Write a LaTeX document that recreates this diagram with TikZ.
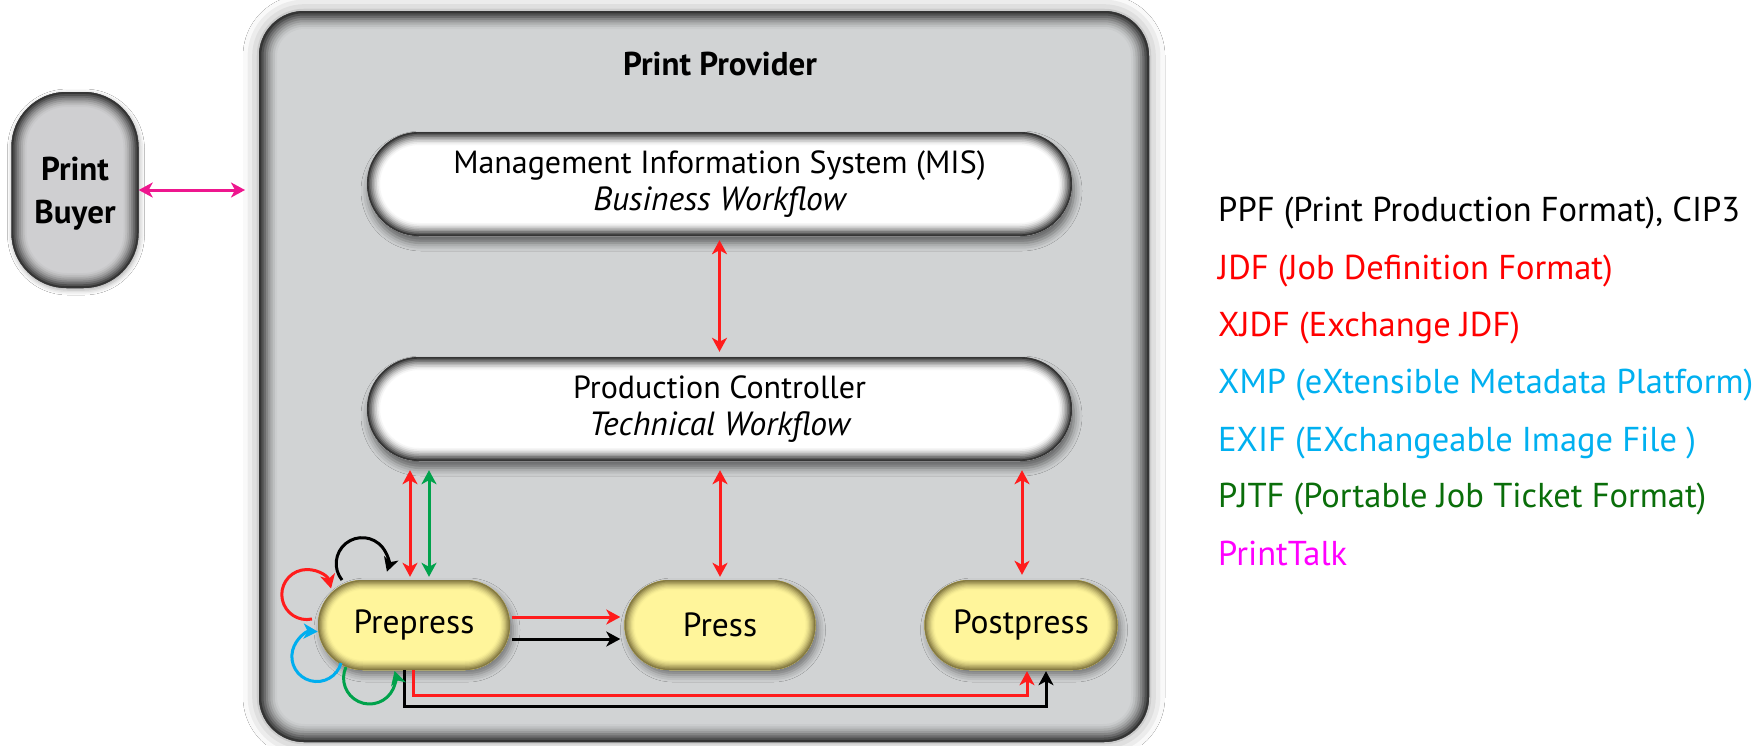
\documentclass[tikz,border=0pt]{standalone}
\usepackage{fontspec}
\setmainfont{PT Sans}
\usetikzlibrary{arrows.meta,shadows.blur,calc}

\definecolor{provfill}{HTML}{D1D3D4}
\definecolor{edgegray}{HTML}{353535}
\definecolor{buyfill}{HTML}{CFCFD1}
\definecolor{yelfill}{HTML}{FFF59B}
\definecolor{yeledge}{HTML}{857A42}
\definecolor{jred}{HTML}{FF1C1C}
\definecolor{jgreen}{HTML}{00A24B}
\definecolor{jblue}{HTML}{00AEEF}
\definecolor{jpink}{HTML}{EE168E}
\definecolor{lgred}{HTML}{FF0000}
\definecolor{lgblue}{HTML}{00B0F0}
\definecolor{lggreen}{HTML}{0A6E0A}
\definecolor{lgmag}{HTML}{FF00FF}

\newcommand\myfnt{\fontsize{32pt}{37pt}\selectfont}
\newcommand\myital{\fontsize{33.5pt}{37pt}\selectfont\itshape}
\newcommand\myyel{\fontsize{33.5pt}{37pt}\selectfont}
\newcommand\mybold{\fontsize{33pt}{43pt}\selectfont\bfseries}
\newcommand\mylegend{\fontsize{34.5pt}{37pt}\selectfont}

\tikzset{
  atip/.tip={Stealth[length=14pt,width=15pt,inset=4pt]},
  bevel/.style n args={4}{rounded corners=#3, fill=#2, inner sep=0pt,
    path picture={
      \foreach \k in {1,...,8}{
        \pgfmathsetmacro\w{2*#4*(9-\k)/8}
        \pgfmathsetmacro\p{100*(\k/8)^1.5}
        \draw[line width=\w pt, draw=#1!\p!#2, rounded corners=#3]
          (path picture bounding box.south west) rectangle (path picture bounding box.north east);
      }
    }},
  whitebox/.style={bevel={edgegray}{white}{52pt}{13}, minimum width=705pt, minimum height=104pt,
    align=center, font=\myfnt,
    blur shadow={shadow xshift=2pt, shadow yshift=-7pt, shadow blur radius=8pt, shadow opacity=55}},
  yelbox/.style={bevel={yeledge}{yelfill}{45pt}{10}, minimum height=90pt, font=\myyel,
    blur shadow={shadow xshift=3pt, shadow yshift=-5pt, shadow blur radius=7pt, shadow opacity=45}},
  both/.style={line width=3pt, arrows={atip-atip}},
  one/.style={line width=3pt, arrows={-atip}},
  legend/.style={anchor=base west, font=\mylegend, inner sep=0pt},
}

\begin{document}
\begin{tikzpicture}[x=1pt,y=-1pt]
\useasboundingbox[fill=white] (0,0) rectangle (1763,745);

% outer provider box
\node[bevel={edgegray}{provfill}{45pt}{18}, minimum width=890pt, minimum height=731pt,
  blur shadow={shadow xshift=0pt, shadow yshift=0pt, shadow blur radius=16pt, shadow opacity=40}]
  (provider) at (704,376.5) {};
\node[font=\mybold, inner sep=0pt] (title) at (720,64) {Print Provider};

% print buyer
\node[bevel={edgegray}{buyfill}{55pt}{15}, minimum width=127pt, minimum height=196pt,
  align=center, font=\mybold,
  blur shadow={shadow xshift=1pt, shadow yshift=-2pt, shadow blur radius=5pt, shadow opacity=35}]
  (buyer) at (75,190) {Print\\\raisebox{0pt}[\height][-2pt]{Buyer}};

% workflow boxes
\node[whitebox] (mis) at (719.5,184) {Management Information System (MIS)\\{\myital Business Workflow}};
\node[whitebox] (pc) at (719.5,409) {Production Controller\\{\myital Technical Workflow}};

% production steps
\node[yelbox, minimum width=192pt] (prepress) at (414,625) {Prepress};
\node[yelbox, minimum width=191pt] (press) at (720,625) {Press};
\node[yelbox, minimum width=193pt] (postpress) at (1021,625) {Postpress};

% PrintTalk
\coordinate (provin) at (245,190);
\draw[both, jpink] (buyer.east) -- (provin);

% vertical JDF / PJTF links
\draw[both, jred, shorten <=4pt, shorten >=5pt] (mis.south) -- (pc.north);
\draw[both, jred, shorten <=9pt, shorten >=3pt] ([xshift=-4pt]prepress.north |- pc.south) -- ([xshift=-4pt]prepress.north);
\draw[both, jgreen, shorten <=9pt, shorten >=3pt] ([xshift=15pt]prepress.north |- pc.south) -- ([xshift=15pt]prepress.north);
\draw[both, jred, shorten <=9pt, shorten >=3pt] (press.north |- pc.south) -- (press.north);
\draw[both, jred, shorten <=9pt, shorten >=5pt] ([xshift=1pt]postpress.north |- pc.south) -- ([xshift=1pt]postpress.north);

% prepress -> press
\draw[one, jred, shorten <=2pt, shorten >=4pt] ([yshift=8pt]prepress.east) -- ([yshift=8pt]press.west);
\draw[one, black, shorten <=2pt, shorten >=4pt] ([yshift=-14pt]prepress.east) -- ([yshift=-14pt]press.west);

% prepress -> postpress
\draw[one, jred, shorten >=1pt] ([xshift=-1pt]prepress.south) -- ++(0,25) -| ([xshift=6pt]postpress.south);
\draw[one, black, shorten >=1pt] ([xshift=-10pt]prepress.south) -- ++(0,36) -| ([xshift=25pt]postpress.south);

% self loops
\draw[one, black] ([shift={(-72,-45)}]prepress.center) arc[start angle=141, end angle=378, radius=26];
\draw[one, jred] ([shift={(-102,-6)}]prepress.center) arc[start angle=78, end angle=346, radius=25];
\draw[one, jblue] ([shift={(-73,38)}]prepress.center) arc[start angle=15, end angle=272, radius=25];
\draw[one, jgreen] ([shift={(-68,42)}]prepress.center) arc[start angle=205, end angle=-16, radius=26];

% legend
\node[legend, text=black] (l1) at (1218,221) {PPF (Print Production Format), CIP3};
\node[legend, text=lgred] (l2) at (1218,279) {JDF (Job Definition Format)};
\node[legend, text=lgred] (l3) at (1218,336) {XJDF (Exchange JDF)};
\node[legend, text=lgblue] (l4) at (1218,393) {XMP (eXtensible Metadata Platform)};
\node[legend, text=lgblue] (l5) at (1218,451) {EXIF (EXchangeable Image File )};
\node[legend, text=lggreen] (l6) at (1218,507) {PJTF (Portable Job Ticket Format)};
\node[legend, text=lgmag] (l7) at (1218,565) {PrintTalk};
\end{tikzpicture}
\end{document}
